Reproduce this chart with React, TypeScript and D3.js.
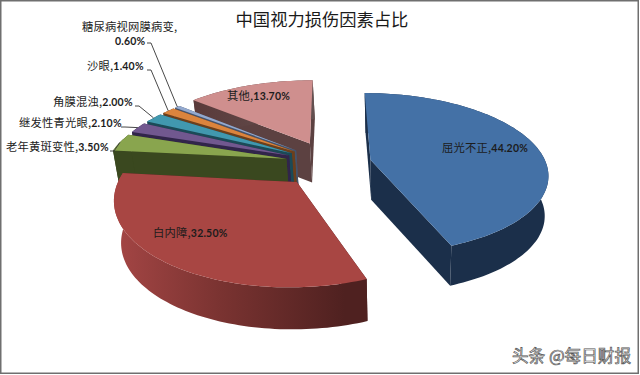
import React from "react";
import * as d3 from "d3";

const categories = ["屈光不正", "白内障", "老年黄斑变性", "继发性青光眼", "角膜混浊", "沙眼", "糖尿病视网膜病变", "其他"];
const shares = [44.2, 32.5, 3.5, 2.1, 2.0, 1.4, 0.6, 13.7];
const topColors = ["#4471a6", "#a84643", "#89a54e", "#71588f", "#4198af", "#db843d", "#93a9cf", "#cf8f8e"];
const wallColors = ["#1b2f4a", "#4d1f1f", "#3a481f", "#31254a", "#1b4a57", "#6b3f1c", "#46536b", "#5c4141"];
const explode = [0.23, 0.29, 0.25, 0.25, 0.25, 0.25, 0.25, 0.28];
const radiusX = [0.975, 0.955, 1, 1, 1, 1, 1, 1];
const radiusY = [0.985, 1, 1, 1, 1, 1, 1, 1];
const wallDepth = [40, 42, 40, 40, 40, 40, 40, 39];
const drawOrder = [7, 6, 5, 4, 3, 2, 0, 1];

// label layout: anchor of text start/end, elbow of the leader line
const labelEnds: [number, number][] = [[442, 152], [153, 237], [6, 151], [19, 127], [53, 106], [87, 70], [115, 45], [227, 100]];
const leaderElbows: ([number, number] | null)[] = [null, null, [114, 151], [125, 127], [139, 106], [151, 70], [151, 43], null];

const CX = 330, CY = 163, FX = 180, FY = 80, P = 0.17;
const VX = 400, VT = 0.025;

const project = (x: number, y: number): [number, number] => {
  const w = 1 + P * y;
  return [CX + (FX * x) / w, CY - (FY * y) / w];
};
const pathOf = d3.line<[number, number]>().x((d) => d[0]).y((d) => d[1]);

const arcs = d3.pie<number>().sort(null).startAngle(0).endAngle(2 * Math.PI)(shares);

const sliceGeom = arcs.map((a, i) => {
  const mid = (a.startAngle + a.endAngle) / 2;
  const ox = explode[i] * Math.sin(mid);
  const oy = explode[i] * Math.cos(mid);
  const n = Math.max(4, Math.ceil((a.endAngle - a.startAngle) * 40));
  const angles = d3.range(n + 1).map((k) => a.startAngle + ((a.endAngle - a.startAngle) * k) / n);
  const rim = angles.map((t) => project(ox + radiusX[i] * Math.sin(t), oy + radiusY[i] * Math.cos(t)));
  const apex = project(ox, oy);
  const midRim = project(ox + radiusX[i] * Math.sin(mid), oy + radiusY[i] * Math.cos(mid));
  return { apex, rim, midRim };
});

function Slice({ i }: { i: number }) {
  const { apex, rim } = sliceGeom[i];
  const first = rim[0];
  const last = rim[rim.length - 1];
  const lower = ([x, y]: [number, number]): [number, number] => [x + (VX - x) * VT, y + wallDepth[i]];
  const wallFill = i === 1 ? "url(#redWall)" : i === 7 ? "url(#pinkWall)" : wallColors[i];
  const radial = (p: [number, number]) => pathOf([apex, p, lower(p), lower(apex)]) + "Z";
  const rimWall = pathOf([...rim, ...rim.slice().reverse().map(lower)]) + "Z";
  return (
    <g>
      <path d={radial(first)} fill={wallColors[i]} />
      <path d={radial(last)} fill={wallColors[i]} />
      <path d={rimWall} fill={wallFill} />
      <path d={pathOf([apex, ...rim]) + "Z"} fill={topColors[i]} />
    </g>
  );
}

const cjk = "'Noto Sans CJK SC', sans-serif";
const num = "Lato, 'Open Sans', sans-serif";

function Label({ i }: { i: number }) {
  const [x, y] = labelEnds[i];
  const pct = shares[i].toFixed(2) + "%";
  if (i === 6) {
    return (
      <text x={x} y={y} fontSize={10.5} fill="#1c1c1c" fontFamily={num} fontWeight={700} letterSpacing={0.2}>
        <tspan x={82} y={31} fontFamily={cjk} fontWeight={400} fontSize={11.3}>{categories[i]},</tspan>
        <tspan x={x} y={y}>{pct}</tspan>
      </text>
    );
  }
  return (
    <text x={x} y={y} fontSize={10.5} fill="#1c1c1c" fontFamily={num} fontWeight={700} letterSpacing={0.2}>
      <tspan fontFamily={cjk} fontWeight={400} fontSize={11.3}>{categories[i]},</tspan>
      <tspan>{pct}</tspan>
    </text>
  );
}

export default function App() {
  return (
    <svg width={640} height={375} viewBox="0 0 640 375" style={{ position: "absolute", left: 0, top: 0, display: "block" }}>
      <defs>
        <linearGradient id="redWall" gradientUnits="userSpaceOnUse" x1={118} x2={345} y1={0} y2={0}>
          <stop offset="0" stopColor="#a34544" />
          <stop offset="0.45" stopColor="#7a3331" />
          <stop offset="1" stopColor="#4f2120" />
        </linearGradient>
        <linearGradient id="pinkWall" gradientUnits="userSpaceOnUse" x1={193} x2={310} y1={0} y2={0}>
          <stop offset="0" stopColor="#5a3a3a" />
          <stop offset="1" stopColor="#635050" />
        </linearGradient>
      </defs>
      <rect x={0} y={0} width={640} height={375} fill="#fff" />
      <rect x={0.75} y={0.75} width={637.5} height={372.5} fill="none" stroke="#6f6f6f" strokeWidth={1.5} />
      <text x={322} y={26} textAnchor="middle" fontSize={17.3} fill="#1a1a1a" fontFamily={cjk}>中国视力损伤因素占比</text>
      {drawOrder.map((i) => <Slice key={i} i={i} />)}
      {leaderElbows.map((e, i) => {
        if (!e) return null;
        const start: [number, number] = [e[0] - 4, e[1]];
        return <path key={i} d={pathOf([start, e, sliceGeom[i].midRim]) ?? ""} fill="none" stroke="#333" strokeWidth={0.9} />;
      })}
      {shares.map((_, i) => <Label key={i} i={i} />)}
      <text x={512} y={362} fontSize={16.6} fill="#f4f4f4" stroke="#555" strokeWidth={0.7} fontFamily={cjk}>头条 @每日财报</text>
    </svg>
  );
}
